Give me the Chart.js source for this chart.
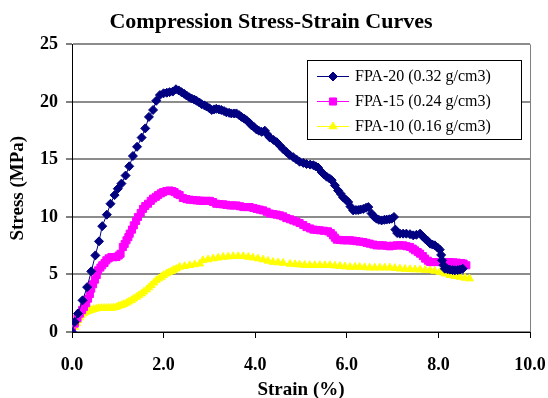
<!DOCTYPE html>
<html>
<head>
<meta charset="utf-8">
<script src="https://cdn.jsdelivr.net/npm/chart.js@4.4.0/dist/chart.umd.min.js"></script>
<style>
  html, body { margin: 0; padding: 0; background: #fff; }
  #wrap { width: 548px; height: 398px; }
</style>
</head>
<body>
<div id="wrap"><canvas id="stress-chart" width="548" height="398"></canvas></div>
<script>
// series labels
const seriesNames = ['FPA-20 (0.32 g/cm3)', 'FPA-15 (0.24 g/cm3)', 'FPA-10 (0.16 g/cm3)'];

// FPA-20 (strain %, stress MPa)
const fpa20Strain = [0, 0.06, 0.13, 0.23, 0.33, 0.42, 0.51, 0.59, 0.66, 0.76, 0.84, 0.93, 1.0, 1.08, 1.17, 1.25, 1.33, 1.42, 1.52, 1.6,
  1.68, 1.77, 1.84, 1.92, 2.0, 2.07, 2.13, 2.2, 2.27, 2.33, 2.39, 2.45, 2.5, 2.56, 2.61, 2.67, 2.72, 2.78, 2.83, 2.89,
  2.94, 3.0, 3.05, 3.1, 3.15, 3.21, 3.26, 3.32, 3.37, 3.43, 3.48, 3.54, 3.59, 3.65, 3.7, 3.76, 3.81, 3.87, 3.92, 3.98,
  4.03, 4.08, 4.14, 4.21, 4.26, 4.32, 4.4, 4.47, 4.54, 4.61, 4.68, 4.75, 4.83, 4.9, 4.97, 5.05, 5.12, 5.2, 5.27, 5.32,
  5.37, 5.45, 5.5, 5.56, 5.62, 5.67, 5.74, 5.81, 5.87, 5.92, 5.98, 6.03, 6.08, 6.14, 6.2, 6.25, 6.3, 6.36, 6.42, 6.47,
  6.54, 6.6, 6.65, 6.7, 6.76, 6.82, 6.87, 6.93, 6.98, 7.03, 7.06, 7.1, 7.16, 7.23, 7.3, 7.38, 7.45, 7.52, 7.6, 7.66,
  7.71, 7.77, 7.82, 7.87, 7.92, 7.98, 8.03, 8.06, 8.08, 8.11, 8.14, 8.2, 8.25, 8.31, 8.36, 8.42, 8.47, 8.53];
const fpa20Stress = [0, 0.87, 1.6, 2.75, 3.9, 5.27, 6.66, 7.88, 9.2, 10.2, 11.15, 11.9, 12.45, 12.9, 13.6, 14.4, 15.3, 16.1, 16.9, 17.7,
  18.7, 19.3, 20.1, 20.6, 20.75, 20.8, 20.85, 20.9, 21.1, 21.0, 20.85, 20.7, 20.56, 20.4, 20.3, 20.2, 20.1, 19.95, 19.8, 19.7,
  19.6, 19.45, 19.3, 19.35, 19.4, 19.35, 19.3, 19.2, 19.1, 19.05, 19.0, 19.0, 19.0, 18.85, 18.7, 18.55, 18.4, 18.2, 17.96, 17.8,
  17.6, 17.5, 17.4, 17.5, 17.2, 16.9, 16.7, 16.5, 16.2, 15.9, 15.65, 15.4, 15.2, 15.0, 14.8, 14.7, 14.6, 14.55, 14.5, 14.4,
  14.3, 13.9, 13.7, 13.5, 13.35, 13.2, 12.75, 12.3, 12.0, 11.7, 11.5, 11.3, 10.9, 10.57, 10.6, 10.6, 10.65, 10.7, 10.8, 10.86,
  10.3, 10.0, 9.85, 9.75, 9.7, 9.75, 9.77, 9.8, 9.85, 10.0, 8.9, 8.6, 8.55, 8.55, 8.55, 8.5, 8.4, 8.45, 8.55, 8.3,
  8.1, 7.9, 7.68, 7.6, 7.53, 7.35, 7.16, 6.7, 6.23, 5.8, 5.5, 5.45, 5.42, 5.38, 5.36, 5.38, 5.42, 5.5];

// FPA-15
const fpa15Strain = [0, 0.06, 0.12, 0.17, 0.22, 0.26, 0.31, 0.35, 0.39, 0.42, 0.46, 0.5, 0.54, 0.57, 0.62, 0.66, 0.71, 0.75, 0.8, 0.86,
  0.91, 0.97, 1.02, 1.06, 1.11, 1.15, 1.19, 1.23, 1.26, 1.31, 1.35, 1.4, 1.44, 1.5, 1.55, 1.6, 1.66, 1.72, 1.77, 1.83,
  1.88, 1.94, 1.99, 2.06, 2.13, 2.19, 2.24, 2.3, 2.35, 2.42, 2.5, 2.57, 2.65, 2.72, 2.79, 2.86, 2.94, 3.01, 3.08, 3.15,
  3.22, 3.3, 3.37, 3.45, 3.52, 3.59, 3.67, 3.74, 3.81, 3.88, 3.96, 4.03, 4.1, 4.17, 4.25, 4.32, 4.4, 4.47, 4.54, 4.61,
  4.68, 4.76, 4.83, 4.9, 4.97, 5.05, 5.12, 5.2, 5.27, 5.34, 5.41, 5.5, 5.59, 5.65, 5.7, 5.74, 5.78, 5.85, 5.92, 6.0,
  6.07, 6.14, 6.21, 6.28, 6.36, 6.43, 6.5, 6.58, 6.65, 6.72, 6.79, 6.87, 6.94, 7.01, 7.09, 7.16, 7.23, 7.3, 7.38, 7.44,
  7.49, 7.55, 7.6, 7.66, 7.71, 7.77, 7.82, 7.89, 7.96, 8.04, 8.11, 8.18, 8.25, 8.33, 8.4, 8.5, 8.55, 8.61];
const fpa15Stress = [0, 0.73, 1.2, 1.6, 1.9, 2.17, 2.5, 2.9, 3.3, 3.77, 4.15, 4.55, 4.95, 5.36, 5.6, 5.8, 6.0, 6.23, 6.4, 6.52,
  6.5, 6.52, 6.65, 6.8, 7.38, 7.65, 7.97, 8.25, 8.55, 8.9, 9.27, 9.65, 10.0, 10.35, 10.7, 10.95, 11.15, 11.4, 11.6, 11.75,
  11.9, 12.05, 12.16, 12.25, 12.3, 12.25, 12.16, 12.0, 11.9, 11.65, 11.55, 11.5, 11.47, 11.44, 11.42, 11.4, 11.4, 11.4, 11.3, 11.15,
  11.12, 11.1, 11.05, 11.0, 11.0, 11.0, 10.93, 10.86, 10.86, 10.86, 10.78, 10.7, 10.64, 10.57, 10.45, 10.3, 10.25, 10.2, 10.14, 10.05,
  9.9, 9.8, 9.7, 9.6, 9.47, 9.3, 9.12, 9.0, 8.9, 8.87, 8.84, 8.8, 8.75, 8.6, 8.4, 8.2, 8.03, 8.0, 7.97, 7.97,
  7.97, 7.94, 7.9, 7.86, 7.82, 7.75, 7.68, 7.6, 7.53, 7.53, 7.53, 7.49, 7.45, 7.5, 7.53, 7.53, 7.53, 7.46, 7.39, 7.25,
  7.1, 6.95, 6.81, 6.6, 6.38, 6.2, 6.08, 6.08, 6.08, 6.08, 6.08, 6.08, 6.08, 6.05, 6.03, 6.0, 5.95, 5.8];

// FPA-10
const fpa10Strain = [0, 0.06, 0.1, 0.13, 0.17, 0.2, 0.25, 0.31, 0.36, 0.42, 0.47, 0.53, 0.58, 0.64, 0.7, 0.75, 0.8, 0.86, 0.91, 0.97,
  1.02, 1.08, 1.13, 1.19, 1.24, 1.3, 1.35, 1.41, 1.46, 1.52, 1.57, 1.63, 1.68, 1.73, 1.79, 1.84, 1.9, 1.95, 2.0, 2.06,
  2.11, 2.17, 2.22, 2.28, 2.35, 2.46, 2.57, 2.68, 2.79, 2.86, 2.97, 3.08, 3.19, 3.3, 3.41, 3.52, 3.63, 3.74, 3.85, 3.95,
  4.06, 4.17, 4.28, 4.39, 4.5, 4.61, 4.76, 4.87, 4.97, 5.08, 5.19, 5.3, 5.41, 5.52, 5.63, 5.74, 5.85, 5.96, 6.07, 6.18,
  6.28, 6.39, 6.5, 6.61, 6.72, 6.83, 6.94, 7.05, 7.16, 7.27, 7.38, 7.49, 7.6, 7.71, 7.82, 7.92, 8.03, 8.14, 8.25, 8.36,
  8.47, 8.58, 8.68];
const fpa10Stress = [0, 0.43, 0.75, 1.0, 1.25, 1.45, 1.6, 1.74, 1.82, 1.9, 1.97, 2.03, 2.06, 2.08, 2.08, 2.08, 2.08, 2.08, 2.12, 2.17,
  2.25, 2.32, 2.42, 2.52, 2.63, 2.75, 2.9, 3.04, 3.18, 3.33, 3.5, 3.68, 3.87, 4.06, 4.28, 4.49, 4.64, 4.78, 4.93, 5.07,
  5.17, 5.27, 5.4, 5.5, 5.65, 5.72, 5.8, 5.87, 5.94, 6.23, 6.3, 6.38, 6.45, 6.52, 6.55, 6.58, 6.58, 6.58, 6.52, 6.46,
  6.38, 6.29, 6.18, 6.08, 6.04, 6.0, 5.92, 5.88, 5.85, 5.82, 5.8, 5.8, 5.8, 5.8, 5.8, 5.76, 5.73, 5.69, 5.65, 5.65,
  5.65, 5.62, 5.59, 5.59, 5.59, 5.59, 5.59, 5.55, 5.5, 5.47, 5.45, 5.43, 5.42, 5.39, 5.36, 5.3, 5.21, 5.07, 4.93, 4.85,
  4.78, 4.7, 4.64];

// axes
const xTicks = [0, 2, 4, 6, 8, 10];
const yTicks = [0, 5, 10, 15, 20, 25];

function pairs(xs, ys) {
    return xs.map(function(x, i) { return {x: x, y: ys[i]}; });
}

const serif = "'Liberation Serif', 'Times New Roman', serif";

// legend box drawn inside the plot, like the Excel one
const boxLegend = {
    id: 'boxLegend',
    afterDraw: function(chart) {
        const ctx = chart.ctx;
        const bx = 307, by = 60, bw = 214, bh = 79;
        ctx.save();
        ctx.fillStyle = '#fff';
        ctx.fillRect(bx, by, bw, bh);
        ctx.strokeStyle = '#000';
        ctx.lineWidth = 1;
        ctx.strokeRect(bx + 0.5, by + 0.5, bw, bh);
        chart.data.datasets.forEach(function(ds, i) {
            const y = by + 16 + i * 25;
            ctx.strokeStyle = ds.borderColor;
            ctx.fillStyle = ds.backgroundColor;
            ctx.lineWidth = 1;
            ctx.beginPath();
            ctx.moveTo(bx + 10, y + 0.5);
            ctx.lineTo(bx + 42, y + 0.5);
            ctx.stroke();
            Chart.helpers.drawPoint(ctx, {
                pointStyle: ds.pointStyle,
                radius: ds.pointRadius,
                rotation: 0,
                borderWidth: 1
            }, bx + 26, y + 0.5);
            ctx.fillStyle = '#000';
            ctx.font = '16px ' + serif;
            ctx.textBaseline = 'middle';
            ctx.textAlign = 'left';
            ctx.fillText(ds.label, bx + 48, y + 1);
        });
        ctx.restore();
    },
    beforeDatasetsDraw: function(chart) {
        // grey right edge of plot area
        const a = chart.chartArea;
        const ctx = chart.ctx;
        ctx.save();
        ctx.strokeStyle = '#808080';
        ctx.lineWidth = 1;
        ctx.beginPath();
        ctx.moveTo(Math.round(a.right) + 0.5, a.top);
        ctx.lineTo(Math.round(a.right) + 0.5, a.bottom);
        ctx.stroke();
        ctx.restore();
    }
};

const ctx = document.getElementById('stress-chart');
const data = {
    datasets: [{
        label: seriesNames[0],
        data: pairs(fpa20Strain, fpa20Stress),
        borderColor: '#000080',
        backgroundColor: '#000080',
        pointStyle: 'rectRot',
        pointRadius: 4.5,
        borderWidth: 1
    }, {
        label: seriesNames[1],
        data: pairs(fpa15Strain, fpa15Stress),
        borderColor: '#FF00FF',
        backgroundColor: '#FF00FF',
        pointStyle: 'rect',
        pointRadius: 5,
        borderWidth: 1
    }, {
        label: seriesNames[2],
        data: pairs(fpa10Strain, fpa10Stress),
        borderColor: '#FFFF00',
        backgroundColor: '#FFFF00',
        pointStyle: 'triangle',
        pointRadius: 4.5,
        borderWidth: 1
    }]
};

const config = {
    type: 'scatter',
    data: data,
    options: {
        responsive: false,
        animation: false,
        devicePixelRatio: 1,
        showLine: true,
        layout: { padding: { left: 12, right: 18, top: 0, bottom: 0 } },
        elements: {
            line: { tension: 0 },
            point: { borderWidth: 1, hoverRadius: 4 }
        },
        plugins: {
            legend: { display: false },
            tooltip: { enabled: false },
            title: {
                display: true,
                text: 'Compression Stress-Strain Curves',
                color: '#000',
                font: { family: serif, size: 22, weight: 'bold', lineHeight: 1.2 },
                padding: { top: 9, bottom: 9 }
            }
        },
        scales: {
            x: {
                type: 'linear',
                min: 0,
                max: 10,
                afterFit: function(scale) {
                    scale.height = 66;
                    scale.paddingLeft = 0;
                    scale.paddingRight = 0;
                },
                afterBuildTicks: function(scale) {
                    scale.ticks = xTicks.map(function(v) { return {value: v}; });
                },
                ticks: {
                    color: '#000',
                    padding: 17,
                    maxRotation: 0,
                    font: { family: serif, size: 18, weight: 'bold' },
                    callback: function(v) { return v.toFixed(1); }
                },
                grid: {
                    drawOnChartArea: false,
                    drawTicks: true,
                    tickLength: 6,
                    tickColor: '#000'
                },
                border: { color: '#000', width: 1 },
                title: {
                    display: true,
                    text: 'Strain (%)',
                    color: '#000',
                    font: { family: serif, size: 19, weight: 'bold', lineHeight: 0.8 },
                    padding: { top: 0, bottom: 0 }
                }
            },
            y: {
                type: 'linear',
                min: 0,
                max: 25,
                afterFit: function(scale) { scale.width = 60; },
                afterBuildTicks: function(scale) {
                    scale.ticks = yTicks.map(function(v) { return {value: v}; });
                },
                ticks: {
                    color: '#000',
                    padding: 8,
                    font: { family: serif, size: 18, weight: 'bold' }
                },
                grid: {
                    color: '#8c8c8c',
                    lineWidth: 2,
                    drawTicks: true,
                    tickLength: 6,
                    tickColor: '#000',
                    tickWidth: 1
                },
                border: { color: '#000', width: 1 },
                title: {
                    display: true,
                    text: 'Stress (MPa)',
                    color: '#000',
                    font: { family: serif, size: 19, weight: 'bold', lineHeight: 1.2 },
                    padding: { top: -5, bottom: 0 }
                }
            }
        }
    },
    plugins: [boxLegend]
};

const myChart = new Chart(ctx, config);
</script>
</body>
</html>
